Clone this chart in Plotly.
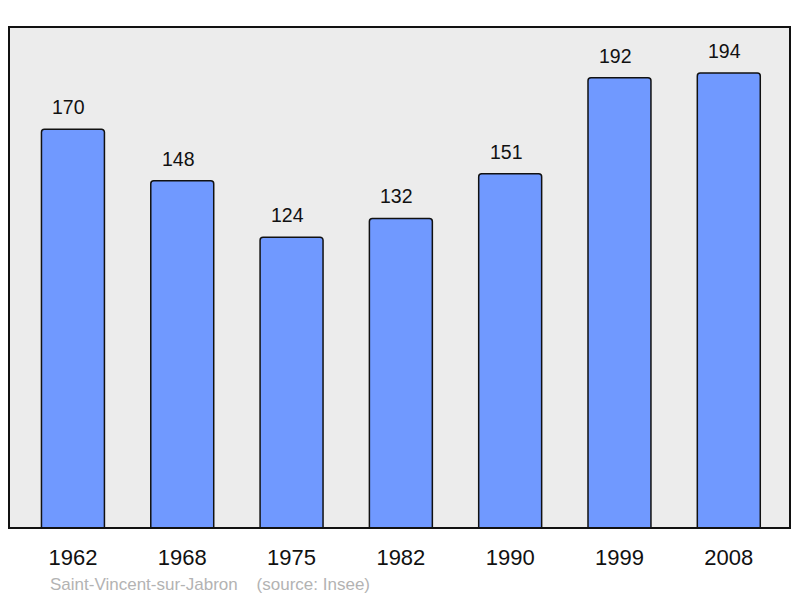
import plotly.graph_objects as go

years = ["1962", "1968", "1975", "1982", "1990", "1999", "2008"]
population = [170, 148, 124, 132, 151, 192, 194]

fig = go.Figure()
fig.add_trace(go.Bar(
    x=list(range(len(years))),
    y=population,
    width=0.576,
    marker=dict(color="#7099ff", line=dict(color="#111111", width=1.5), cornerradius=3),
    hoverinfo="skip",
))

for i, v in enumerate(population):
    fig.add_annotation(x=i, y=v, text=str(v), showarrow=False, yanchor="bottom",
                       yshift=9, xshift=-4,
                       font=dict(family="Liberation Sans, Arial", size=19.5, color="#111111"))

fig.add_annotation(xref="paper", yref="paper", x=(48 - 9) / 781, y=-(584 - 528) / 501,
                   xanchor="left", yanchor="middle", showarrow=False,
                   text="Saint-Vincent-sur-Jabron&nbsp;&nbsp;&nbsp;&nbsp;(source: Insee)",
                   font=dict(family="Liberation Sans, Arial", size=17, color="#b3b3b3"))

fig.add_shape(type="rect", xref="paper", yref="paper", x0=0, y0=0, x1=1, y1=1,
              line=dict(color="#111111", width=2), layer="above")

fig.update_layout(
    width=800, height=598,
    margin=dict(l=9, r=10, t=27, b=70),
    paper_bgcolor="white",
    plot_bgcolor="#ececec",
    showlegend=False,
    xaxis=dict(range=[-0.585, 6.56], tickmode="array", tickvals=list(range(len(years))),
               ticktext=years, showgrid=False, zeroline=False, ticks="outside",
               ticklen=10, tickcolor="rgba(0,0,0,0)",
               tickfont=dict(family="Liberation Sans, Arial", size=22, color="#111111")),
    yaxis=dict(range=[0, 213.6], showgrid=False, zeroline=False, showticklabels=False),
)

fig.write_html("out.html", config={"displayModeBar": False},
               post_script="document.body.style.margin='0';")
